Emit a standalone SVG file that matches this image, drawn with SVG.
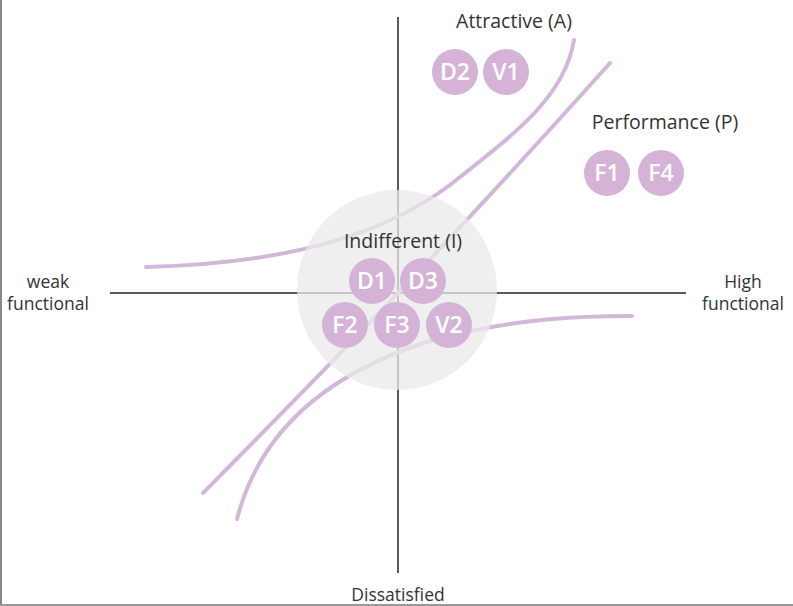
<svg xmlns="http://www.w3.org/2000/svg" width="793" height="606" viewBox="0 0 793 606">
<style>
.axis{stroke:#5a5a5a;stroke-width:2;fill:none}
.curve{stroke:#d3b7d9;stroke-width:4;fill:none;stroke-linecap:round}
.lbl{font-family:"Open Sans","Noto Sans",sans-serif;font-size:19.5px;fill:#333;text-anchor:middle}
.lbl2{font-family:"Open Sans","Noto Sans",sans-serif;font-size:17.5px;fill:#333;text-anchor:middle}
.node circle{fill:#d5b3d6}
.node text{font-family:"Open Sans","Noto Sans",sans-serif;font-size:23px;font-weight:600;fill:#fff;text-anchor:middle}
</style>
<rect x="0" y="0" width="793" height="606" fill="#fff"/>
<line x1="1" y1="0" x2="1" y2="606" stroke="#888" stroke-width="2"/>
<line x1="0" y1="605" x2="793" y2="605" stroke="#999" stroke-width="2"/>
<g id="axes">
<line class="axis" x1="110" y1="293" x2="686" y2="293"/>
<line class="axis" x1="398" y1="17" x2="398" y2="573"/>
</g>
<g id="connectors">
<path class="curve" d="M146,267 C260,264 370,245 450,185 C520,130 565,95 574,40"/>
<path class="curve" d="M203,493 C300,395 420,275 610,63"/>
<path class="curve" d="M237,519 C260,430 330,370 440,338 C520,318 580,316 632,316"/>
</g>
<g id="indifferent-zone">
<circle cx="397" cy="290" r="100" fill="#e9e9e9" fill-opacity="0.75"/>
</g>
<g id="labels">
<text class="lbl" x="514" y="28">Attractive (A)</text>
<text class="lbl" x="665" y="129">Performance (P)</text>
<text class="lbl" x="403" y="248">Indifferent (I)</text>
<text class="lbl2" x="48" y="288">weak</text>
<text class="lbl2" x="48" y="310">functional</text>
<text class="lbl2" x="743" y="288">High</text>
<text class="lbl2" x="743" y="310">functional</text>
<text class="lbl2" x="398" y="601">Dissatisfied</text>
</g>
<g id="D2" class="node"><circle cx="455" cy="72" r="23"/><text x="455" y="80">D2</text></g>
<g id="V1" class="node"><circle cx="506" cy="72" r="23"/><text x="506" y="80">V1</text></g>
<g id="F1" class="node"><circle cx="607" cy="173" r="23"/><text x="607" y="181">F1</text></g>
<g id="F4" class="node"><circle cx="661" cy="173" r="23"/><text x="661" y="181">F4</text></g>
<g id="D1" class="node"><circle cx="372" cy="281" r="23"/><text x="372" y="289">D1</text></g>
<g id="D3" class="node"><circle cx="423" cy="281" r="23"/><text x="423" y="289">D3</text></g>
<g id="F2" class="node"><circle cx="345" cy="325" r="23"/><text x="345" y="333">F2</text></g>
<g id="F3" class="node"><circle cx="397" cy="325" r="23"/><text x="397" y="333">F3</text></g>
<g id="V2" class="node"><circle cx="449" cy="325" r="23"/><text x="449" y="333">V2</text></g>
</svg>
